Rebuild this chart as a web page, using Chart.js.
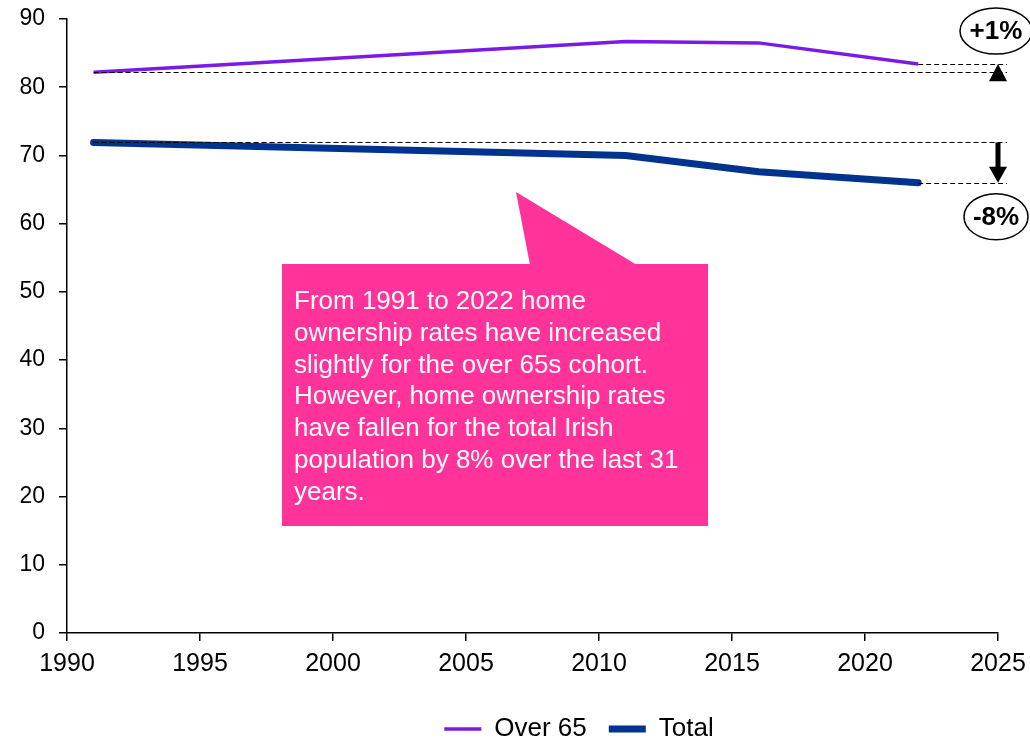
<!DOCTYPE html>
<html>
<head>
<meta charset="utf-8">
<script src="https://cdn.jsdelivr.net/npm/chart.js@4/dist/chart.umd.min.js"></script>
<style>
  html, body { margin: 0; padding: 0; background: #ffffff; }
  #wrap { width: 1030px; height: 741px; position: relative; }
</style>
</head>
<body>
<div id="wrap"><canvas id="ownershipChart"></canvas></div>
<script>
// Home ownership rates (%) by census year
const years = [1991, 2011, 2016, 2022];
const over65 = [82.2, 86.7, 86.5, 83.4];
const total = [71.9, 70.0, 67.6, 66.0];
const seriesNames = ['Over 65', 'Total'];
const changeLabels = ['+1%', '-8%'];
const calloutLines = [
    'From 1991 to 2022 home',
    'ownership rates have increased',
    'slightly for the over 65s cohort.',
    'However, home ownership rates',
    'have fallen for the total Irish',
    'population by 8% over the last 31',
    'years.'
];

const FONT = "'Liberation Sans', Arial, sans-serif";
const PURPLE = '#7B1AE6';
const NAVY = '#00338D';
const PINK = '#FF3399';

function toXY(xs, ys) {
    return xs.map((x, i) => ({ x: x, y: ys[i] }));
}

// dashed guides, arrows, badges and the pink callout
const annotations = {
    id: 'annotations',
    afterLayout(chart) {
        // legend sits right of centre in the original
        chart.legend.left += 80;
        chart.legend.right += 80;
        chart.legend.top += 11;
        chart.legend.bottom += 11;
    },
    afterDatasetsDraw(chart) {
        const ctx = chart.ctx;
        const xs = chart.scales.x;
        const ys = chart.scales.y;
        const xFirst = xs.getPixelForValue(years[0]);
        const xLast = xs.getPixelForValue(years[years.length - 1]);
        const xEnd = xs.getPixelForValue(xs.max);
        const n = years.length - 1;

        ctx.save();
        ctx.strokeStyle = '#000';
        ctx.lineWidth = 1;
        ctx.setLineDash([5, 3]);
        const dash = (x0, v) => {
            const y = Math.round(ys.getPixelForValue(v)) + 0.5;
            ctx.beginPath();
            ctx.moveTo(x0, y);
            ctx.lineTo(xEnd + 9, y);
            ctx.stroke();
        };
        dash(xFirst, over65[0]);
        dash(xLast, over65[n]);
        dash(xFirst, total[0]);
        dash(xLast, total[n]);
        ctx.setLineDash([]);

        // up arrow (Over 65)
        const upTop = ys.getPixelForValue(over65[n]);
        const upBase = ys.getPixelForValue(over65[0]) + 9;
        ctx.fillStyle = '#000';
        ctx.beginPath();
        ctx.moveTo(xEnd, upTop);
        ctx.lineTo(xEnd + 9, upBase);
        ctx.lineTo(xEnd - 9, upBase);
        ctx.closePath();
        ctx.fill();

        // down arrow (Total)
        const dTop = ys.getPixelForValue(total[0]);
        const dTip = ys.getPixelForValue(total[n]);
        ctx.lineWidth = 5;
        ctx.beginPath();
        ctx.moveTo(xEnd, dTop);
        ctx.lineTo(xEnd, dTip - 14);
        ctx.stroke();
        ctx.beginPath();
        ctx.moveTo(xEnd, dTip);
        ctx.lineTo(xEnd + 9, dTip - 16);
        ctx.lineTo(xEnd - 9, dTip - 16);
        ctx.closePath();
        ctx.fill();

        // badges
        const badge = (cx, cy, rx, text) => {
            ctx.beginPath();
            ctx.ellipse(cx, cy, rx, 23, 0, 0, Math.PI * 2);
            ctx.fillStyle = '#fff';
            ctx.fill();
            ctx.lineWidth = 1.5;
            ctx.strokeStyle = '#000';
            ctx.stroke();
            ctx.fillStyle = '#000';
            ctx.font = 'bold 26px ' + FONT;
            ctx.textAlign = 'center';
            ctx.textBaseline = 'middle';
            ctx.fillText(text, cx, cy + 1);
        };
        badge(xEnd - 2, ys.getPixelForValue(over65[n]) - 33, 36, changeLabels[0]);
        badge(xEnd - 2, ys.getPixelForValue(total[n]) + 34, 32, changeLabels[1]);

        // callout box with pointer
        const a = chart.chartArea;
        const bx = a.left + 215, by = a.top + 245, bw = 426, bh = 262;
        ctx.fillStyle = PINK;
        ctx.beginPath();
        ctx.moveTo(bx + 248, by + 1);
        ctx.lineTo(bx + 234, by - 72);
        ctx.lineTo(bx + 355, by + 1);
        ctx.closePath();
        ctx.fill();
        ctx.fillRect(bx, by, bw, bh);

        ctx.fillStyle = '#fff';
        ctx.font = '26px ' + FONT;
        ctx.textAlign = 'left';
        ctx.textBaseline = 'alphabetic';
        calloutLines.forEach((line, i) => {
            ctx.fillText(line, bx + 12, by + 45 + i * 31.8);
        });
        ctx.restore();
    }
};

const ctx = document.getElementById('ownershipChart');

new Chart(ctx, {
    type: 'line',
    data: {
        datasets: [
            {
                label: seriesNames[0],
                data: toXY(years, over65),
                borderColor: PURPLE,
                backgroundColor: PURPLE,
                borderWidth: 3.5,
                pointRadius: 0,
                pointStyle: 'line',
                tension: 0,
                borderCapStyle: 'butt',
            },
            {
                label: seriesNames[1],
                data: toXY(years, total),
                borderColor: NAVY,
                backgroundColor: NAVY,
                borderWidth: 7,
                pointRadius: 0,
                pointStyle: 'line',
                tension: 0,
                borderCapStyle: 'round',
                borderJoinStyle: 'round',
            }
        ]
    },
    options: {
        responsive: true,
        maintainAspectRatio: false,
        animation: false,
        layout: {
            padding: { top: 19, right: 32, left: 0, bottom: 0 }
        },
        plugins: {
            legend: {
                position: 'bottom',
                labels: {
                    usePointStyle: true,
                    pointStyleWidth: 37,
                    font: { family: FONT, size: 26 },
                    color: '#000',
                    padding: 22,
                }
            },
            tooltip: { enabled: false }
        },
        scales: {
            x: {
                type: 'linear',
                min: 1990,
                max: 2025,
                ticks: {
                    stepSize: 5,
                    font: { family: FONT, size: 25 },
                    color: '#000',
                    padding: 8,
                    maxRotation: 0,
                    callback: (v) => String(v),
                },
                grid: { drawOnChartArea: false, tickLength: 8, color: '#000', lineWidth: 1.5 },
                border: { color: '#000', width: 1.5 },
                afterFit: (scale) => {
                    scale.height = 50;
                    scale.paddingLeft = 0;
                    scale.paddingRight = 0;
                },
            },
            y: {
                min: 0,
                max: 90,
                ticks: {
                    stepSize: 10,
                    font: { family: FONT, size: 23 },
                    color: '#000',
                    padding: 14,
                },
                grid: { drawOnChartArea: false, tickLength: 8, color: '#000', lineWidth: 1.5 },
                border: { color: '#000', width: 1.5 },
                afterFit: (scale) => {
                    scale.width = 67;
                    scale.paddingTop = 0;
                    scale.paddingBottom = 0;
                },
            }
        }
    },
    plugins: [annotations]
});
</script>
</body>
</html>
